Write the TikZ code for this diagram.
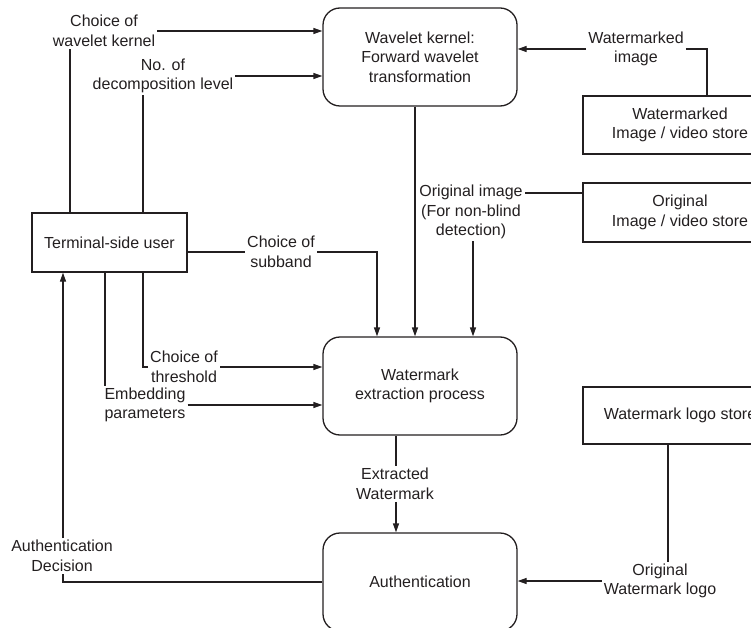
\documentclass[tikz,border=0pt]{standalone}
\usepackage{fontspec}
\setmainfont{Liberation Sans}
\usetikzlibrary{arrows.meta}
\definecolor{ink}{RGB}{35,31,32}
\begin{document}
\begin{tikzpicture}[x=1pt,y=-1pt,
  every node/.style={text=ink,font=\fontsize{16}{19.5}\selectfont,align=center},
  conn/.style={draw=ink,line width=1.3pt},
  arr/.style={conn,-{Triangle[length=9pt,width=6pt]}},
  procbox/.style={draw=ink,line width=1.3pt,rounded corners=17pt,minimum width=194pt,minimum height=98pt,inner sep=0pt},
  storebox/.style={draw=ink,line width=1.3pt,minimum width=194pt,inner sep=0pt},
  lbl/.style={inner sep=2pt}]
\useasboundingbox (0,0) rectangle (751,628);
\clip (0,0) rectangle (751,628);
% x positions of vertical connectors
\coordinate (x63) at (63,0);
\coordinate (x70) at (70,0);
\coordinate (x105) at (105,0);
\coordinate (x143) at (143,0);
\coordinate (x377) at (377,0);
\coordinate (x396) at (396,0);
\coordinate (x415) at (415,0);
\coordinate (x473) at (473,0);
\coordinate (x668) at (668,0);
\coordinate (x707) at (707,0);
\coordinate (y193) at (0,193);
% boxes
\node[procbox] (wk) at (420,57) {Wavelet kernel:\\Forward wavelet\\transformation};
\node[procbox] (ex) at (420,386) {Watermark\\extraction process};
\node[procbox] (au) at (420,582) {Authentication};
\node[storebox,minimum width=155pt,minimum height=59pt] (user) at (109.5,242.5) {Terminal-side user};
\node[storebox,minimum height=58pt] (ws) at (680,125) {Watermarked\\Image / video store};
\node[storebox,minimum height=59pt] (os) at (680,212.5) {Original\\Image / video store};
\node[storebox,minimum height=57pt] (ls) at (680,415.5) {Watermark logo store};
% labels
\node[lbl] (l1) at (104,31) {Choice of\\wavelet kernel};
\node[lbl] (l2) at (163,76) {No. of\\decomposition level};
\node[lbl] (l3) at (636,49) {Watermarked\\image};
\node[lbl] (l4) at (471,212) {Original image\\(For non-blind\\detection)};
\node[lbl] (l5) at (281,252) {Choice of\\subband};
\node[lbl] (l6) at (184,367) {Choice of\\threshold};
\node[lbl] (l7) at (145,405) {Embedding\\parameters};
\node[lbl] (l8) at (395,484) {Extracted\\Watermark};
\node[lbl] (l9) at (62,556) {Authentication\\Decision};
\node[lbl] (l10) at (660,581) {Original\\Watermark logo};
% connectors
\draw[conn] (user.north -| x70) -- (l1.south -| x70);
\draw[arr] (l1.east) -- (l1.east -| wk.west);
\draw[conn] (user.north -| x143) -- (l2.south -| x143);
\draw[arr] (l2.east) -- (l2.east -| wk.west);
\draw[arr] (l3.west) -- (l3.west -| wk.east);
\draw[conn] (l3.east) -| (ws.north -| x707);
\draw[arr] (wk.south -| x415) -- (ex.north -| x415);
\draw[conn] (os.west |- y193) -- (l4.east |- y193);
\draw[arr] (l4.south -| x473) -- (ex.north -| x473);
\draw[conn] (user.east |- l5.west) -- (l5.west);
\draw[arr] (l5.east) -| (ex.north -| x377);
\draw[conn] (user.south -| x143) |- (l6.west);
\draw[arr] (l6.east) -- (l6.east -| ex.west);
\draw[conn] (user.south -| x105) -- (l7.north -| x105);
\draw[arr] (l7.east) -- (l7.east -| ex.west);
\draw[conn] (ex.south -| x396) -- (l8.north -| x396);
\draw[arr] (l8.south -| x396) -- (au.north -| x396);
\draw[conn] (au.west) -| (l9.south -| x63);
\draw[arr] (l9.north -| x63) -- (user.south -| x63);
\draw[conn] (ls.south -| x668) -- (l10.north -| x668);
\draw[arr] (l10.west) -- (l10.west -| au.east);
\end{tikzpicture}
\end{document}
